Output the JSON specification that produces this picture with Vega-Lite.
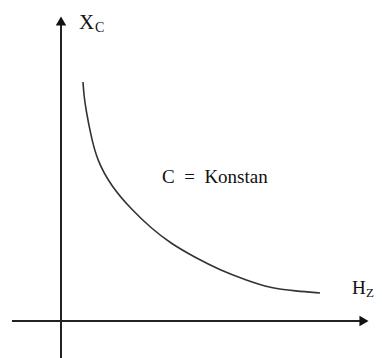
{
  "$schema": "https://vega.github.io/schema/vega-lite/v6.json",
  "width": 382,
  "height": 358,
  "padding": 0,
  "autosize": {"type": "none"},
  "background": "white",
  "config": {"view": {"stroke": null}},
  "datasets": {
    "curve": [
      {"x": 22, "y": 239},
      {"x": 23, "y": 225},
      {"x": 25, "y": 211},
      {"x": 30, "y": 185},
      {"x": 36, "y": 161},
      {"x": 50, "y": 135},
      {"x": 71, "y": 111},
      {"x": 90, "y": 93},
      {"x": 109, "y": 78},
      {"x": 135, "y": 63},
      {"x": 159, "y": 51},
      {"x": 185, "y": 41},
      {"x": 209, "y": 33},
      {"x": 235, "y": 30},
      {"x": 259, "y": 28}
    ],
    "axes": [
      {"x": 0, "y": -37, "x2": 0, "y2": 296},
      {"x": -49, "y": 0, "x2": 300, "y2": 0}
    ],
    "arrows": [
      {"x": 0, "y": 300, "shape": "triangle-up"},
      {"x": 303, "y": 0, "shape": "triangle-right"}
    ],
    "labels": [
      {"x": 18, "y": 292, "text": "X", "size": 21},
      {"x": 34, "y": 289, "text": "C", "size": 14},
      {"x": 291, "y": 27, "text": "H", "size": 19},
      {"x": 305, "y": 24, "text": "Z", "size": 13},
      {"x": 101, "y": 138, "text": "C \u00a0=\u00a0 Konstan", "size": 19}
    ]
  },
  "layer": [
    {
      "data": {"name": "axes"},
      "mark": {"type": "rule", "color": "#222222", "strokeWidth": 2},
      "encoding": {
        "x": {"field": "x", "type": "quantitative", "scale": {"domain": [-61, 321], "nice": false, "zero": false}, "axis": null},
        "y": {"field": "y", "type": "quantitative", "scale": {"domain": [-37, 321], "nice": false, "zero": false}, "axis": null},
        "x2": {"field": "x2"},
        "y2": {"field": "y2"}
      }
    },
    {
      "data": {"name": "arrows"},
      "mark": {"type": "point", "filled": true, "color": "#111111", "opacity": 1, "size": 110},
      "encoding": {
        "x": {"field": "x", "type": "quantitative"},
        "y": {"field": "y", "type": "quantitative"},
        "shape": {"field": "shape", "type": "nominal", "scale": null}
      }
    },
    {
      "data": {"name": "curve"},
      "mark": {"type": "line", "color": "#333333", "strokeWidth": 1.6, "interpolate": "basis"},
      "encoding": {
        "x": {"field": "x", "type": "quantitative"},
        "y": {"field": "y", "type": "quantitative"}
      }
    },
    {
      "data": {"name": "labels"},
      "mark": {"type": "text", "align": "left", "baseline": "alphabetic", "font": "Liberation Serif", "color": "#111111"},
      "encoding": {
        "x": {"field": "x", "type": "quantitative"},
        "y": {"field": "y", "type": "quantitative"},
        "text": {"field": "text"},
        "size": {"field": "size", "type": "quantitative", "scale": null}
      }
    }
  ]
}
